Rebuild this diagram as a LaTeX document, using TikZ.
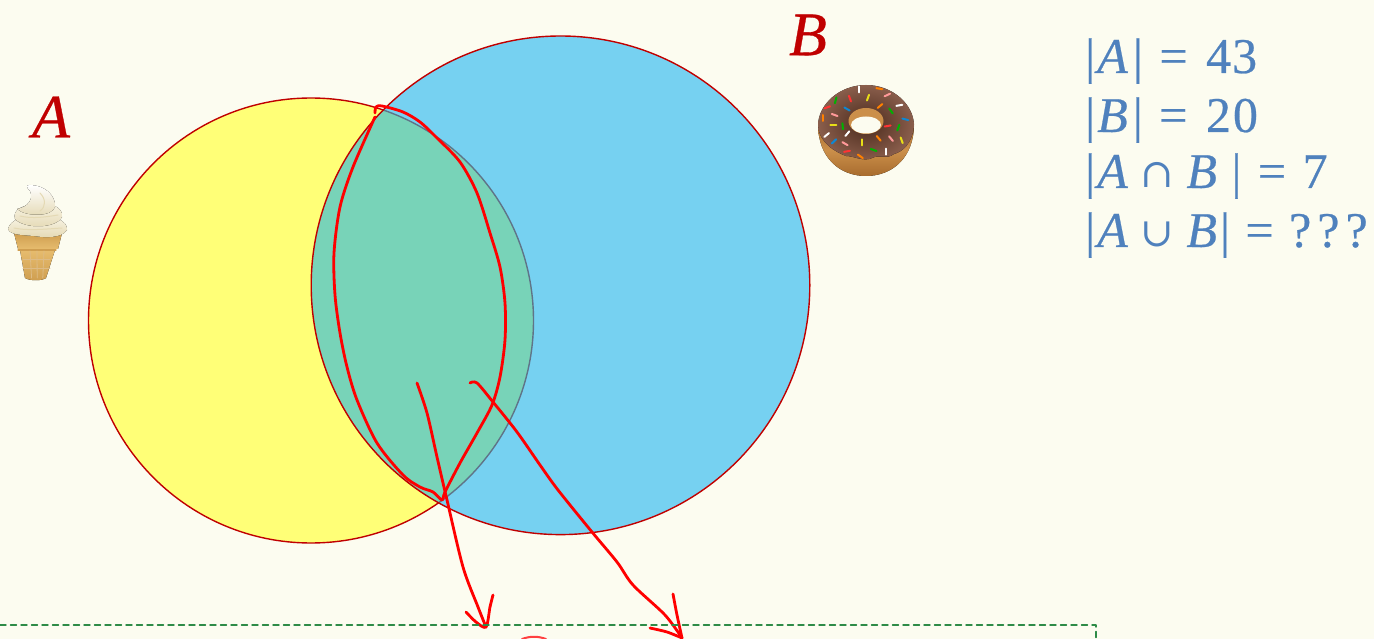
\documentclass[tikz,border=0pt]{standalone}
\usepackage{fontspec}
\setmainfont{Liberation Serif}[FakeBold=0.5]
\newfontfamily\symbfont{DejaVu Serif}
\definecolor{nen}{HTML}{FCFCF0}
\definecolor{vang}{HTML}{FFFF77}
\definecolor{xanh}{HTML}{76D1F1}
\definecolor{luc}{HTML}{78D3B8}
\definecolor{vien}{HTML}{C00000}
\definecolor{vienxam}{HTML}{5F7488}
\definecolor{chu}{HTML}{4F81BD}
\definecolor{hop}{HTML}{2E8B47}
\definecolor{bot}{HTML}{CB8F4A}
\definecolor{botdam}{HTML}{A86C2E}
\definecolor{socola}{HTML}{8A5E4C}
\definecolor{socoladam}{HTML}{4A2A1C}
\definecolor{kem}{HTML}{FAF6E8}
\definecolor{kemdam}{HTML}{E4D9B4}
\definecolor{banh}{HTML}{E6BC6E}
\definecolor{banhdam}{HTML}{CF9E50}
\newcommand{\kc}[1]{\kern#1pt\relax}
\newcommand{\sym}[1]{{\symbfont\fontsize{40}{40}\selectfont#1}}
\tikzset{
	tenset/.style={text=vien,inner sep=0pt,font=\fontsize{62}{62}\selectfont\itshape},
	congthuc/.style={text=chu,inner sep=0pt,anchor=base west,font=\fontsize{50}{50}\selectfont},
	netve/.style={red,line width=2.8pt,line join=round,line cap=round},
	donut/.pic={
		\fill[top color=botdam,bottom color=botdam,middle color=bot](-48,-6)..controls(-48,28)and(-26,46)..(0,46)..controls(26,46)and(48,28)..(48,-6)--cycle;
		\fill[inner color=socoladam,outer color=socola](-48,-4)..controls(-48,-26)and(-26,-45)..(0,-45)..controls(26,-45)and(48,-26)..(48,-4)
			..controls(46,14)and(36,22)..(28,24)..controls(20,30)and(14,24)..(6,28)..controls(-2,32)and(-12,26)..(-20,26)..controls(-30,22)and(-46,14)..cycle;
		\fill[bot](0,-9)ellipse(17.5 and 13);
		\fill[nen](0,-5)ellipse(15 and 8.5);
	},
	ocque/.pic={
		\fill[top color=banhdam,bottom color=banh](-24,-4)--(24,-4)--(20,12)--(-20,12)--cycle;
		\fill[top color=banh,bottom color=banhdam](-18,13)--(17,13)--(8,41)..controls(4,44)and(-8,44)..(-13,41)--cycle;
		\draw[banhdam,line width=1.2pt](-20,13)--(18,13);
		\foreach \x in{-8,-1,6}
		\draw[banhdam!70!white,line width=.8pt](\x,14)--(.8*\x,41);
		\foreach \y in{22,31}
		\draw[banhdam!70!white,line width=.8pt](-15,\y)--(12,\y);
		\fill[top color=kem,bottom color=kemdam](-30,-8)..controls(-28,-17)and(-14,-22)..(0,-22)..controls(16,-22)and(30,-16)..(29,-7)..controls(24,1)and(8,1)..(-4,-1)..controls(-16,-2)and(-28,-2)..cycle;
		\fill[top color=kem,bottom color=kemdam](-23,-18)..controls(-26,-28)and(-14,-32)..(-2,-33)..controls(10,-36)and(26,-30)..(24,-20)..controls(18,-8)and(-14,-8)..cycle;
		\fill[top color=white,bottom color=kemdam](-21,-28)..controls(-10,-30)and(-4,-38)..(-8,-46)..controls(-12,-50)and(-12,-52)..(-8,-52)..controls(6,-52)and(18,-42)..(17,-30)..controls(14,-20)and(-12,-20)..cycle;
		\draw[kemdam,line width=1pt](-18,-21)..controls(-6,-18)and(8,-20)..(20,-22);
		\draw[kemdam,line width=1pt](-24,-9)..controls(-10,-6)and(8,-8)..(24,-9);
		\draw[kemdam,line width=1pt](2,-44)..controls(8,-38)and(8,-30)..(2,-26);
	},
}
\begin{document}
\begin{tikzpicture}[x=1pt,y=-1pt,line join=round,line cap=round,>=stealth]
	\useasboundingbox(0,0)rectangle(1374,639);
	\fill[nen](0,0)rectangle(1374,639);
	%%%Hai tap hop
	\def\ra{222.5}
	\def\rb{249.3}
	\coordinate(O1) at (311,320.5);
	\coordinate(O2) at (560.5,285.3);
	\fill[vang](O1)circle(\ra);
	\draw[vien,line width=1.4pt](O1)circle(\ra);
	\fill[xanh](O2)circle(\rb);
	\begin{scope}
		\clip(O2)circle(\rb);
		\fill[luc](O1)circle(\ra);
		\draw[vienxam,line width=1.4pt](O1)circle(\ra);
	\end{scope}
	\draw[vien,line width=1.4pt](O2)circle(\rb);
	%%%Ten
	\node[tenset] (tenA) at (51,117) {A};
	\node[tenset] (tenB) at (808,35) {B};
	\path(866,130)pic{donut}(38,237)pic{ocque};
	\foreach \x/\y/\g/\m in{237/268/90/white,298/266/-10/orange,322/285/25/pink!80!red,167/301/75/green!70!black,210/296/-70/red!80,264/293/70/yellow!90!black,142/322/20/red!80,201/327/-30/cyan!70!blue,300/318/40/orange,358/316/10/white,333/333/-55/green!70!black,128/354/90/orange,164/345/-20/pink!80!red,376/358/-15/cyan!70!blue,160/376/0/yellow!90!black,188/379/-85/green!70!black,323/378/10/red!80,355/383/70/green!70!black,140/405/40/white,202/401/50/white,296/415/-50/orange,333/416/-50/pink!80!red,365/421/-70/yellow!90!black,162/424/45/cyan!70!blue,195/431/-30/pink!80!red,245/427/90/yellow!90!black,201/454/10/red!80,281/450/-20/green!70!black,317/455/90/white,241/469/-35/orange}
	\draw[\m,line width=2pt,shift={({780+\x/3},{\y/3})},rotate=\g](-3,0)--(3,0);
	%%%Cong thuc
	\node[congthuc] (dongA) at (1085,73) {|\kc{2}\textit{A}\kc{5}|\kc{4} = \kc{6}4\kc{1}3};
	\node[congthuc] (dongB) at (1085,132) {|\kc{2}\textit{B}\kc{5}|\kc{4} = \kc{6}2\kc{2}0};
	\node[congthuc] (dongC) at (1085,188) {|\kc{2}\textit{A} \sym{∩} \textit{B} \kc{2}|\kc{4} = \kc{4}7};
	\node[congthuc] (dongD) at (1085,247) {|\kc{2}\textit{A} \sym{∪} \textit{B}\kc{3}|\kc{3} = \kc{3}?\kc{6}?\kc{6}?};
	%%%Net ve tay
	\draw[netve] plot[smooth,tension=.5] coordinates{(375,113)(376,107)(382,106)(403,112)(420,122)(437,138)(460,162)(477,193)(490,233)(500,267)(505,303)(505,340)(500,377)(492,405)(477,433)(460,463)(445,492)(442,500)(433,492)(420,487)(403,475)(377,443)(357,400)(347,367)(340,333)(335,295)(334,253)(340,207)(353,167)(375,117)};
	\draw[netve] plot[smooth,tension=.5] coordinates{(417,383)(427,413)(437,457)(447,500)(463,567)(478,607)(486,627)};
	\draw[netve] plot[smooth,tension=.5] coordinates{(466,612)(476,622)(486,627)(490,607)(493,595)};
	\draw[netve] plot[smooth,tension=.5] coordinates{(470,383)(477,383)(493,402)(517,432)(540,465)(558,490)(592,532)(617,562)(633,585)(665,615)(682,638)};
	\draw[netve] plot[smooth,tension=.5] coordinates{(673,594)(677,615)(682,638)};
	\draw[netve] plot[smooth,tension=.5] coordinates{(650,628)(667,632)(682,638)};
	\draw[red!75,line width=2pt](522,639)..controls(530,636)and(538,636)..(546,639);
	%%%Khung
	\draw[hop,line width=1.4pt,dash pattern=on 6pt off 4.5pt](0,625)--(1096,625)--(1096,639);
\end{tikzpicture}
\end{document}
